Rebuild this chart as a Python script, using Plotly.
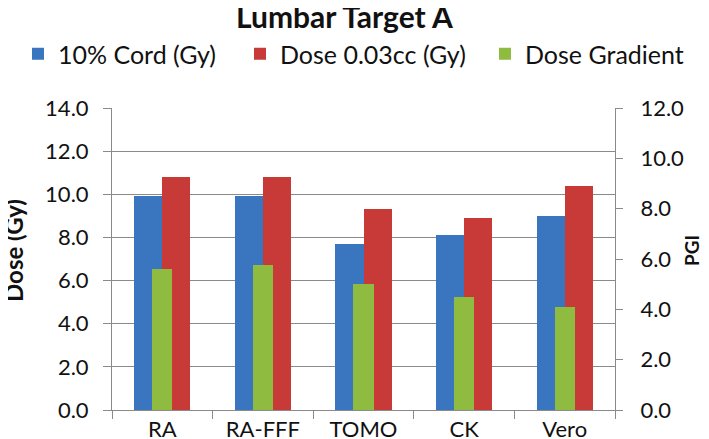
import plotly.graph_objects as go

categories = ["RA", "RA-FFF", "TOMO", "CK", "Vero"]
cord_10 = [9.9, 9.9, 7.7, 8.1, 9.0]
dose_003cc = [10.8, 10.8, 9.3, 8.9, 10.4]
dose_gradient = [5.6, 5.75, 5.0, 4.5, 4.1]
left_ticks = [0, 2, 4, 6, 8, 10, 12, 14]
right_ticks = [0, 2, 4, 6, 8, 10, 12]

FONT = "Lato"
W, H = 709, 439
PL, PR, PT, PB = 104, 607, 100, 402
PW, PH = PR - PL, PB - PT
bw = 0.28

def px_x(x):
    return (x - PL) / PW

def px_y(y):
    return (PB - y) / PH

fig = go.Figure()
fig.add_trace(go.Bar(x=categories, y=cord_10, name="10% Cord (Gy)",
                     marker=dict(color="#3A75C0", line=dict(width=0)),
                     width=bw, offset=-bw, yaxis="y", legend="legend"))
fig.add_trace(go.Bar(x=categories, y=dose_003cc, name="Dose 0.03cc (Gy)",
                     marker=dict(color="#C73A38", line=dict(width=0)),
                     width=bw, offset=0, yaxis="y", legend="legend2"))
fig.add_trace(go.Bar(x=categories, y=dose_gradient, name="Dose Gradient",
                     marker=dict(color="#8FBC40", line=dict(width=0)),
                     width=0.2, offset=-0.1, yaxis="y2", legend="legend3"))

def leg(xpx):
    return dict(orientation="h", x=xpx / W, xanchor="left", xref="container",
                y=1 - 46 / H, yanchor="middle", yref="container",
                font=dict(family=FONT, size=25, color="#111"), itemwidth=30,
                bgcolor="rgba(0,0,0,0)")

grid = "#8a8a8a"
fig.update_layout(
    width=W, height=H,
    margin=dict(l=PL, r=W - PR, t=PT, b=H - PB),
    paper_bgcolor="white", plot_bgcolor="white",
    font=dict(family=FONT, size=21, color="#111"),
    showlegend=True,
    legend=leg(10), legend2=leg(232), legend3=leg(477),
    bargap=0, barmode="overlay",
    xaxis=dict(showline=True, linecolor=grid, linewidth=1, automargin=False,
               ticks="outside", tickson="boundaries", ticklen=8, tickcolor=grid,
               showgrid=False, tickfont=dict(size=22), ticklabelstandoff=0),
    yaxis=dict(range=[0, 14], tickvals=left_ticks, tickformat=".1f", automargin=False,
               showline=True, linecolor=grid, linewidth=1,
               ticks="outside", ticklen=8, tickcolor=grid,
               showgrid=True, gridcolor=grid, gridwidth=1,
               zeroline=False, tickfont=dict(size=22), ticklabelstandoff=10),
    yaxis2=dict(range=[0, 12], tickvals=right_ticks, tickformat=".1f", automargin=False,
                overlaying="y", side="right",
                showline=True, linecolor=grid, linewidth=1,
                ticks="outside", ticklen=7, tickcolor=grid,
                showgrid=False, zeroline=False, tickfont=dict(size=22),
                ticklabelstandoff=13),
    annotations=[
        dict(text="<b>Lumbar Target A</b>", xref="paper", yref="paper",
             x=px_x(336), y=px_y(8), xanchor="center", yanchor="middle",
             showarrow=False, font=dict(family=FONT, size=30, color="#111")),
        dict(text="<b>Dose (Gy)</b>", textangle=-90, xref="paper", yref="paper",
             x=px_x(5), y=px_y(243), xanchor="center", yanchor="middle",
             showarrow=False, font=dict(family=FONT, size=24, color="#111")),
        dict(text="<b>PGI</b>", textangle=-90, xref="paper", yref="paper",
             x=px_x(683), y=px_y(243), xanchor="center", yanchor="middle",
             showarrow=False, font=dict(family=FONT, size=19, color="#111")),
    ],
)
fig.write_html("out.html")
